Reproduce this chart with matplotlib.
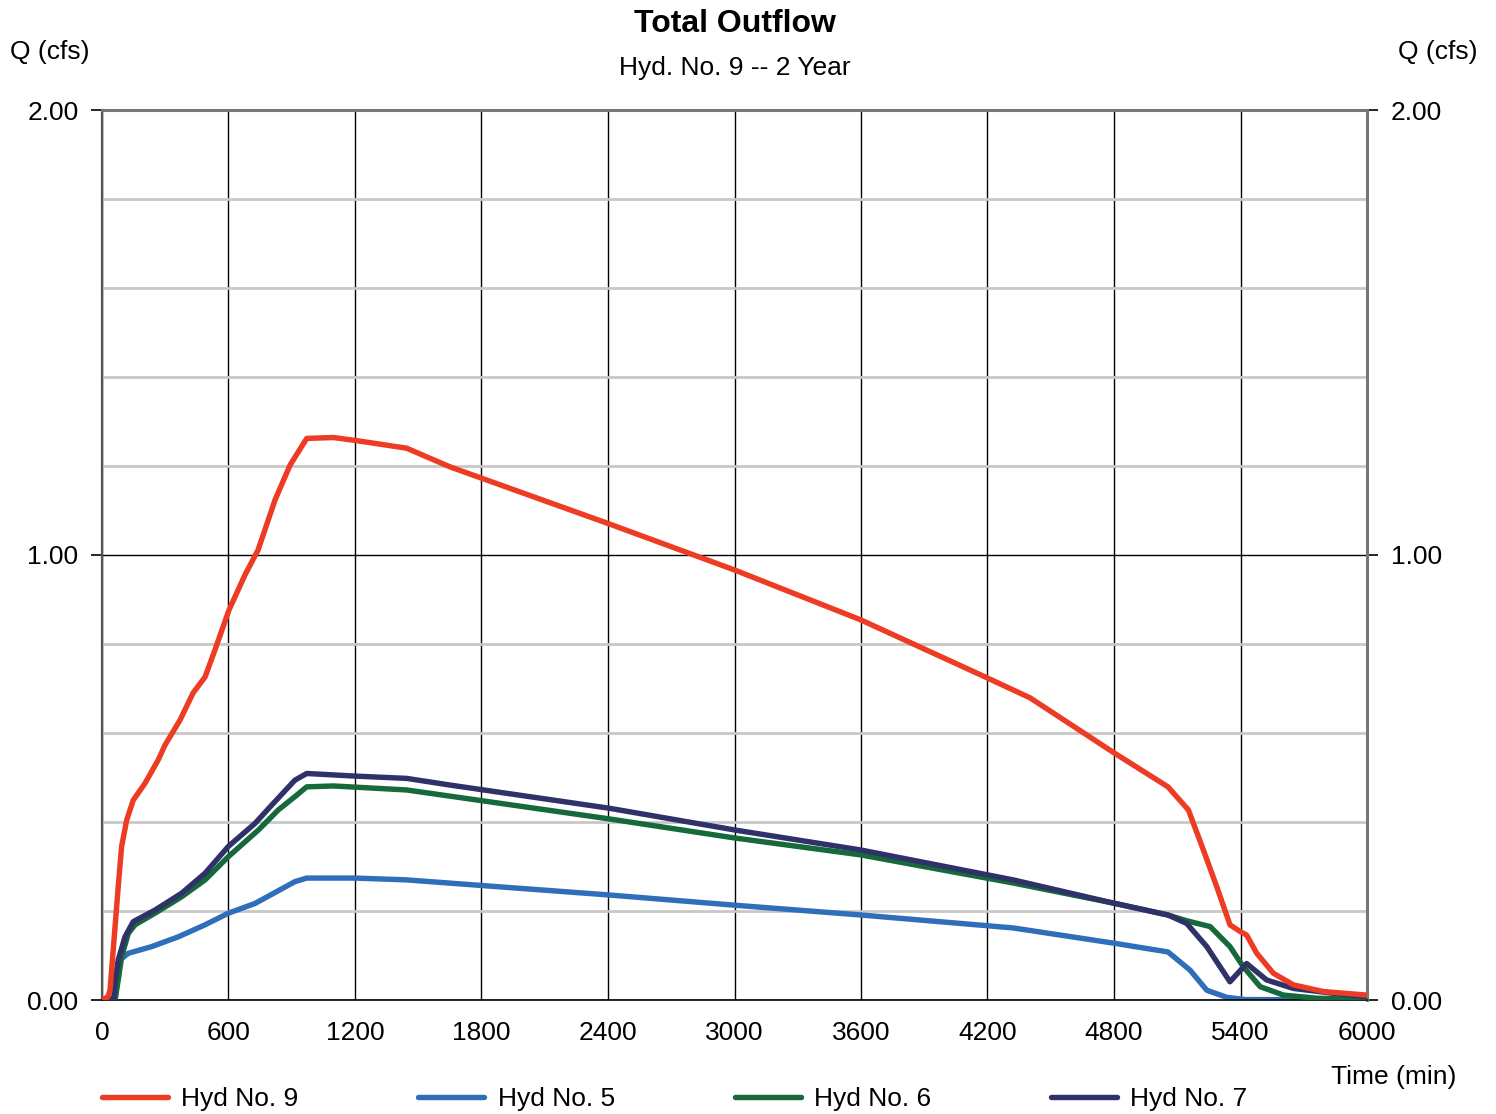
import numpy as np
import matplotlib.pyplot as plt
from matplotlib.ticker import MultipleLocator, FormatStrFormatter

plt.rcParams['font.family'] = ['Liberation Sans', 'DejaVu Sans']

# Hydrograph values (time in min, Q in cfs)
t9 = [0, 28, 38, 62, 77, 93, 117, 148, 204, 266, 299, 370, 432, 489, 536, 602, 678, 740,
      821, 892, 971, 1097, 1208, 1445, 1651, 2405, 3002, 3600, 4198, 4402, 4795, 5056,
      5153, 5224, 5287, 5350, 5398, 5429, 5477, 5556, 5651, 5793, 6000]
q9 = [0, 0.007, 0.022, 0.165, 0.255, 0.345, 0.404, 0.449, 0.487, 0.539, 0.573, 0.629, 0.69,
      0.726, 0.787, 0.876, 0.955, 1.011, 1.124, 1.202, 1.262, 1.264, 1.257, 1.240, 1.198,
      1.070, 0.966, 0.854, 0.724, 0.679, 0.557, 0.479, 0.427, 0.337, 0.255, 0.169, 0.154,
      0.146, 0.105, 0.060, 0.034, 0.019, 0.011]

t5 = [0, 62, 85, 125, 236, 362, 489, 599, 726, 915, 971, 1200, 1442, 2405, 3002, 3600,
      4321, 4795, 5056, 5161, 5240, 5335, 5420, 6000]
q5 = [0, 0.004, 0.09, 0.105, 0.12, 0.142, 0.169, 0.195, 0.217, 0.266, 0.274, 0.274, 0.27,
      0.236, 0.213, 0.191, 0.162, 0.128, 0.108, 0.067, 0.022, 0.006, 0.001, 0]

t6 = [0, 62, 77, 93, 125, 157, 251, 378, 489, 599, 742, 836, 915, 971, 1097, 1445, 2405,
      3002, 3600, 4321, 4795, 5056, 5145, 5256, 5350, 5413, 5493, 5604, 5762, 6000]
q6 = [0, 0, 0.045, 0.097, 0.15, 0.169, 0.195, 0.232, 0.27, 0.322, 0.382, 0.427, 0.457,
      0.479, 0.481, 0.472, 0.407, 0.364, 0.326, 0.263, 0.218, 0.191, 0.178, 0.165, 0.12,
      0.075, 0.03, 0.011, 0.004, 0.001]

t7 = [0, 55, 62, 77, 109, 148, 251, 378, 489, 599, 726, 805, 915, 971, 1208, 1445, 1651,
      2405, 3002, 3600, 4321, 4795, 5056, 5145, 5240, 5350, 5429, 5524, 5651, 5841, 6000]
q7 = [0, 0, 0.045, 0.09, 0.142, 0.176, 0.202, 0.24, 0.285, 0.345, 0.397, 0.438, 0.494,
      0.509, 0.503, 0.498, 0.483, 0.431, 0.382, 0.337, 0.27, 0.218, 0.191, 0.172, 0.12,
      0.041, 0.082, 0.045, 0.026, 0.015, 0.007]

series = [
    ('Hyd No. 9', t9, q9, '#EE3B24', 5),
    ('Hyd No. 5', t5, q5, '#2F6EBA', 2),
    ('Hyd No. 6', t6, q6, '#16693A', 3),
    ('Hyd No. 7', t7, q7, '#2F3268', 4),
]

fig = plt.figure(figsize=(14.96, 11.14), dpi=100)
ax = fig.add_axes([102 / 1496, 1 - 1000 / 1114, 1265 / 1496, 890 / 1114])

handles = []
for label, t, q, color, z in series:
    h, = ax.plot(t, q, color=color, lw=3.9, label=label, zorder=z,
                 solid_joinstyle='round', solid_capstyle='round')
    handles.append(h)

ax.set_xlim(0, 6000)
ax.set_ylim(0, 2.0)
ax.xaxis.set_major_locator(MultipleLocator(600))
ax.yaxis.set_major_locator(MultipleLocator(1.0))
ax.yaxis.set_minor_locator(MultipleLocator(0.2))
ax.yaxis.set_major_formatter(FormatStrFormatter('%.2f'))

ax.grid(True, which='major', axis='x', color='black', lw=1.0, zorder=1)
ax.grid(True, which='major', axis='y', color='black', lw=1.0, zorder=1)
ax.grid(True, which='minor', axis='y', color='#c8c8c8', lw=2.0, zorder=0)

ax.tick_params(axis='x', length=0, pad=15, labelsize=19)
ax.tick_params(axis='y', which='major', length=8, width=1.2, direction='out',
               labelsize=19, pad=9, left=True, right=True, labelleft=True, labelright=True)
ax.tick_params(axis='y', which='minor', length=0)

ax.spines['left'].set_color('#555555')
ax.spines['left'].set_linewidth(1.6)
ax.spines['bottom'].set_color('black')
ax.spines['bottom'].set_linewidth(1.2)
for s in ('top', 'right'):
    ax.spines[s].set_color('#777777')
    ax.spines[s].set_linewidth(2.2)

fig.text(0.4913, 1 - 24 / 1114, 'Total Outflow', ha='center', va='center',
         fontsize=23, fontweight='bold')
fig.text(0.4913, 1 - 68 / 1114, 'Hyd. No. 9 -- 2 Year', ha='center', va='center', fontsize=19)
fig.text(10 / 1496, 1 - 52 / 1114, 'Q (cfs)', ha='left', va='center', fontsize=19)
fig.text(1478 / 1496, 1 - 52 / 1114, 'Q (cfs)', ha='right', va='center', fontsize=19)
fig.text(1456 / 1496, 1 - 1077 / 1114, 'Time (min)', ha='right', va='center', fontsize=19)

fig.legend(handles=handles, loc='center left', bbox_to_anchor=(102 / 1496, 1 - 1099 / 1114),
           ncol=4, frameon=False, fontsize=19, handlelength=2.5, handletextpad=0.5,
           columnspacing=4.55, borderpad=0, borderaxespad=0)

fig.savefig('out.png', dpi=100)
